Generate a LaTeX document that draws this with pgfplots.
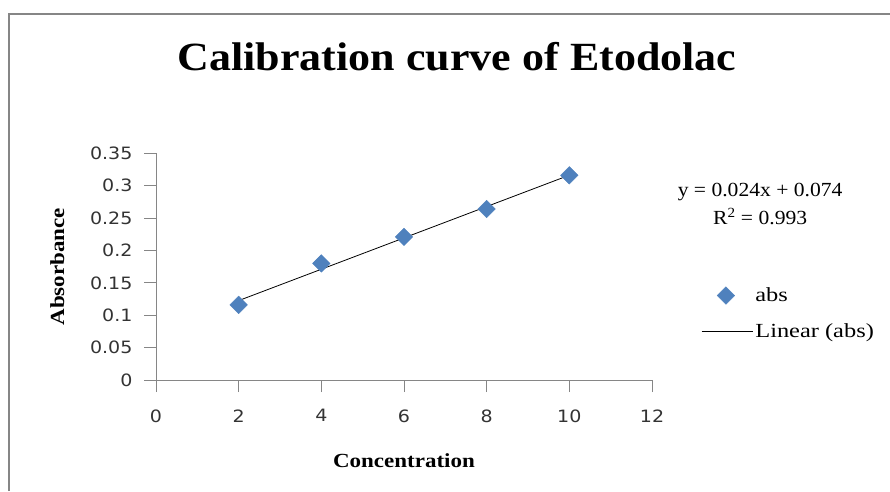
\documentclass[border=0pt]{standalone}
\usepackage{fontspec}
\setmainfont{Liberation Serif}
\newfontfamily\ticksfont{DejaVu Sans}[FakeStretch=1.12]
\newfontfamily\labelfont{Liberation Serif}[FakeStretch=1.15]
\newfontfamily\eqfont{Liberation Serif}[FakeStretch=1.08]
\newfontfamily\legfont{Liberation Serif}[FakeStretch=1.22]
\newfontfamily\titlefont{Liberation Serif}[FakeStretch=1.1]
\usepackage{pgfplots}
\usepackage{pgfplotstable}
\pgfplotsset{compat=1.18}
\definecolor{excelblue}{RGB}{79,129,189}
\definecolor{axisgray}{RGB}{134,134,134}

% Etodolac calibration data
\pgfplotstableread{
conc abs
2  0.116
4  0.180
6  0.221
8  0.264
10 0.316
}\calib

\begin{document}
\begin{tikzpicture}
\path[use as bounding box] (0pt,0pt) rectangle (890pt,491pt);
% outer chart frame
\draw[axisgray, line width=2pt] (9pt,0pt) -- (9pt,477pt) -- (891pt,477pt);

\begin{axis}[
    at={(156pt,111pt)}, anchor=south west,
    scale only axis,
    width=496pt, height=226.7pt,
    xmin=0, xmax=12, ymin=0, ymax=0.35,
    xtick={0,2,...,12},
    ytick={0,0.05,0.1,0.15,0.2,0.25,0.3,0.35},
    axis x line*=bottom, axis y line*=left,
    axis line style={axisgray, line width=1pt, -},
    tick style={axisgray, line width=1pt},
    tick align=outside,
    major tick length=12pt,
    xtick pos=left, ytick pos=left,
    ticklabel style={font=\ticksfont\fontsize{17}{20}\selectfont, text=black!80},
    /pgf/number format/assume math mode=true,
    /pgf/number format/fixed,
    /pgf/number format/precision=2,
    xticklabel style={yshift=-14pt},
    yticklabel style={xshift=-8pt},
    xlabel={\bfseries Concentration},
    ylabel={\bfseries Absorbance},
    label style={font=\labelfont\fontsize{20}{23}\selectfont},
    xlabel style={at={(axis description cs:0.50,0)}, anchor=base, yshift=-87pt},
    ylabel style={at={(axis description cs:0,0.50)}, anchor=base, yshift=92pt},
    clip=false,
    legend style={
        at={(axis description cs:1.093,0.425)}, anchor=north west,
        draw=none, fill=none,
        font=\legfont\fontsize{20}{23}\selectfont,
        row sep=16pt,
        cells={anchor=west},
    },
    legend cell align=left,
]
\addplot[only marks, mark=square*, mark size=6.2pt,
         mark options={rotate=45, fill=excelblue, draw=excelblue},
         legend image code/.code={
            \path[draw=none] (0cm,0cm) -- (1.8cm,0cm);
            \draw[only marks, mark=square*, mark size=6.2pt,
                  mark options={rotate=45, fill=excelblue, draw=excelblue}]
                plot coordinates {(0.85cm,0cm)};}]
    table[x=conc, y=abs] {\calib};
\addlegendentry{abs}
\addplot[black, line width=0.8pt, mark=none,
         legend image code/.code={\draw[black, line width=0.8pt] (0cm,0cm) -- (1.8cm,0cm);}]
    table[x=conc, y={create col/linear regression={y=abs}}] {\calib};
\addlegendentry{Linear (abs)}

\node[font=\eqfont\fontsize{20}{23}\selectfont, align=center, anchor=center]
    at (axis description cs:1.218,0.776) {y = 0.024x + 0.074\\[5pt]R\textsuperscript{2} = 0.993};
\end{axis}

\node[font=\titlefont\bfseries\fontsize{40}{46}\selectfont] at (457pt,434pt) {Calibration curve of Etodolac};
\end{tikzpicture}
\end{document}
